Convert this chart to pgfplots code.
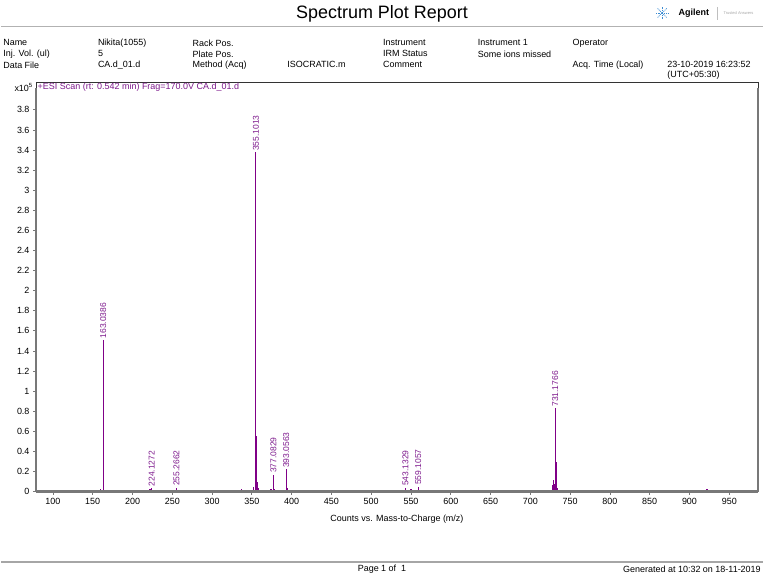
\documentclass[border=0pt]{standalone}
\usepackage{pgfplots}
\pgfplotsset{compat=1.18}
\usepackage{fontspec}
\setmainfont{Liberation Sans}
\definecolor{specpurple}{RGB}{128,0,135}
\definecolor{labpurple}{RGB}{125,25,140}
\definecolor{axgray}{RGB}{120,120,120}
\definecolor{agblue}{RGB}{60,140,210}
\newcommand{\hf}{\fontsize{9}{10.5}\selectfont}
\begin{document}
\begin{tikzpicture}[x=1pt,y=1pt]
\path (0,0) rectangle (764,-576);
% title
\node[font=\fontsize{18}{20}\selectfont] at (382,-14) {Spectrum Plot Report};
\draw[gray!60, line width=1.6pt] (0,-26.5) -- (764,-26.5);
% logo
\foreach \a in {0,45,...,315}{\draw[agblue, line width=0.7pt, dash pattern=on 1pt off 0.8pt] (663,-13) -- ++(\a:7);}
\node[anchor=west, font=\bfseries\fontsize{9}{10}\selectfont] at (676,-13) {Agilent};
\draw[gray!50, line width=0.4pt] (718,-7) -- (718,-20);
\node[anchor=west, font=\fontsize{4}{5}\selectfont, text=gray!70] at (721,-13) {Trusted Answers};
% header
\begin{scope}[every node/.style={anchor=west, font=\hf, inner sep=0pt}]
\node at (2,-43) {Name};
\node at (2,-54) {Inj. Vol. (ul)};
\node at (2,-65) {Data File};
\node at (97,-43) {Nikita(1055)};
\node at (97,-54) {5};
\node at (97,-65) {CA.d\_01.d};
\node at (192,-43) {Rack Pos.};
\node at (192,-54) {Plate Pos.};
\node at (192,-65) {Method (Acq)};
\node at (287,-65) {ISOCRATIC.m};
\node at (383,-43) {Instrument};
\node at (383,-54) {IRM Status};
\node at (383,-65) {Comment};
\node at (478,-43) {Instrument 1};
\node at (478,-54) {Some ions missed};
\node at (573,-43) {Operator};
\node at (573,-65) {Acq. Time (Local)};
\node at (668,-65) {23-10-2019 16:23:52};
\node at (668,-75.5) {(UTC+05:30)};
\end{scope}
\node[anchor=east, font=\hf, inner sep=0pt] at (32,-88) {x10\textsuperscript{5}};
% footer
\draw[gray!70, line width=2.2pt] (0,-564) -- (764,-564);
\node[font=\hf, inner sep=0pt] at (382,-570.5) {Page 1 of \ 1};
\node[anchor=east, font=\hf, inner sep=0pt] at (762,-570.5) {Generated at 10:32 on 18-11-2019};
\begin{axis}[
  at={(35pt,-493pt)}, anchor=south west, scale only axis,
  width=724pt, height=411pt,
  xmin=78.7, xmax=986, ymin=0, ymax=4.08,
  xtick={100,150,200,250,300,350,400,450,500,550,600,650,700,750,800,850,900,950},
  ytick={0,0.2,0.4,0.6,0.8,1,1.2,1.4,1.6,1.8,2,2.2,2.4,2.6,2.8,3,3.2,3.4,3.6,3.8},
  xtick pos=bottom, ytick pos=left,
  tick align=outside, major tick length=3pt,
  tick style={axgray, line width=0.8pt},
  axis line style={black!80, line width=0.5pt},
  ticklabel style={font=\fontsize{9}{10}\selectfont},
  /pgf/number format/assume math mode=true,
  /pgf/number format/fixed,
  scaled y ticks=false,
  xlabel={Counts vs. Mass-to-Charge (m/z)},
  xlabel style={font=\fontsize{9}{10}\selectfont, yshift=-4pt},
  clip=false,
]
\addplot[ycomb, specpurple, line width=1.1pt, mark=none] coordinates {
(90,0.01) (95,0.008) (100,0.01) (105,0.008) (110,0.012) (115,0.01) (118,0.012) (122,0.01)
(128,0.012) (133,0.02) (137,0.01) (141,0.012) (145,0.02) (150,0.008) (155,0.012) (158,0.02) (160,0.03)
(163.0386,1.51) (164.04,0.13) (165.5,0.02) (170,0.01) (175,0.015) (181,0.02) (186,0.01) (190,0.012)
(195,0.015) (200,0.01) (205,0.008) (210,0.01) (215,0.012) (220,0.02) (222,0.025) (224.1272,0.035)
(226,0.02) (230,0.01) (237,0.008) (242,0.01) (248,0.008) (255.2662,0.04) (260,0.01) (265,0.008)
(272,0.01) (280,0.008) (290,0.01) (300,0.008) (310,0.01) (320,0.008) (330,0.01) (337,0.025)
(345,0.01) (352,0.05) (354,0.07) (355.1013,3.376) (356.10,0.55) (357.10,0.10) (358.2,0.04) (360,0.02)
(365,0.012) (370,0.015) (373,0.03) (375,0.025) (377.0829,0.17) (378.3,0.03) (380,0.012) (385,0.01)
(393.0563,0.22) (394.3,0.04) (395.5,0.02) (400,0.01) (410,0.008) (420,0.01) (430,0.008) (440,0.01)
(447,0.02) (455,0.01) (462,0.012) (470,0.008) (480,0.01) (490,0.008) (500,0.01) (510,0.008)
(520,0.01) (530,0.015) (537,0.012) (543.1329,0.04) (550,0.03) (553,0.012) (559.1057,0.05) (561,0.015)
(565,0.01) (575,0.008) (585,0.01) (592,0.012) (598,0.01) (605,0.01) (612,0.008) (622,0.02)
(630,0.008) (640,0.008) (650,0.01) (660,0.008) (670,0.01) (678,0.008) (690,0.008) (700,0.01)
(710,0.012) (715,0.012) (722,0.015) (728,0.07) (729,0.12) (730,0.08) (731.1766,0.83) (732.18,0.29)
(733.2,0.1) (734.2,0.04) (737,0.015) (745,0.01) (748,0.02) (752,0.01) (760,0.008) (770,0.008)
(785,0.01) (799,0.02) (802,0.012) (815,0.008) (830,0.008) (845,0.008) (860,0.01) (875,0.008)
(890,0.008) (900,0.008) (915,0.012) (920,0.015) (922,0.025) (925,0.015) (930,0.012) (935,0.008)
(940,0.01) (950,0.008) (965,0.008)
};
\addplot[draw=none, mark=none, nodes near coords, point meta=explicit symbolic,
  nodes near coords style={rotate=90, anchor=west, inner sep=1.5pt,
    font=\fontsize{8.5}{10}\selectfont, text=labpurple}]
  table[meta=lab] {
x y lab
163.0386 1.51 163.0386
224.1272 0.035 224.1272
255.2662 0.04 255.2662
355.1013 3.376 355.1013
377.0829 0.17 377.0829
393.0563 0.22 393.0563
543.1329 0.04 543.1329
559.1057 0.05 559.1057
731.1766 0.83 731.1766
};
\node[anchor=north west, inner sep=1.5pt, font=\fontsize{9}{10}\selectfont, text=labpurple] at (rel axis cs:0,1) {+ESI Scan (rt: 0.542 min) Frag=170.0V CA.d\_01.d};
\draw[axgray, line width=2.4pt] (rel axis cs:0,0) -- (rel axis cs:1,0);
\draw[axgray, line width=1.6pt] (rel axis cs:0,0) -- (rel axis cs:0,0.985);
\draw[axgray, line width=1.6pt] (rel axis cs:1,0) -- (rel axis cs:1,0.985);
\end{axis}
\end{tikzpicture}
\end{document}
